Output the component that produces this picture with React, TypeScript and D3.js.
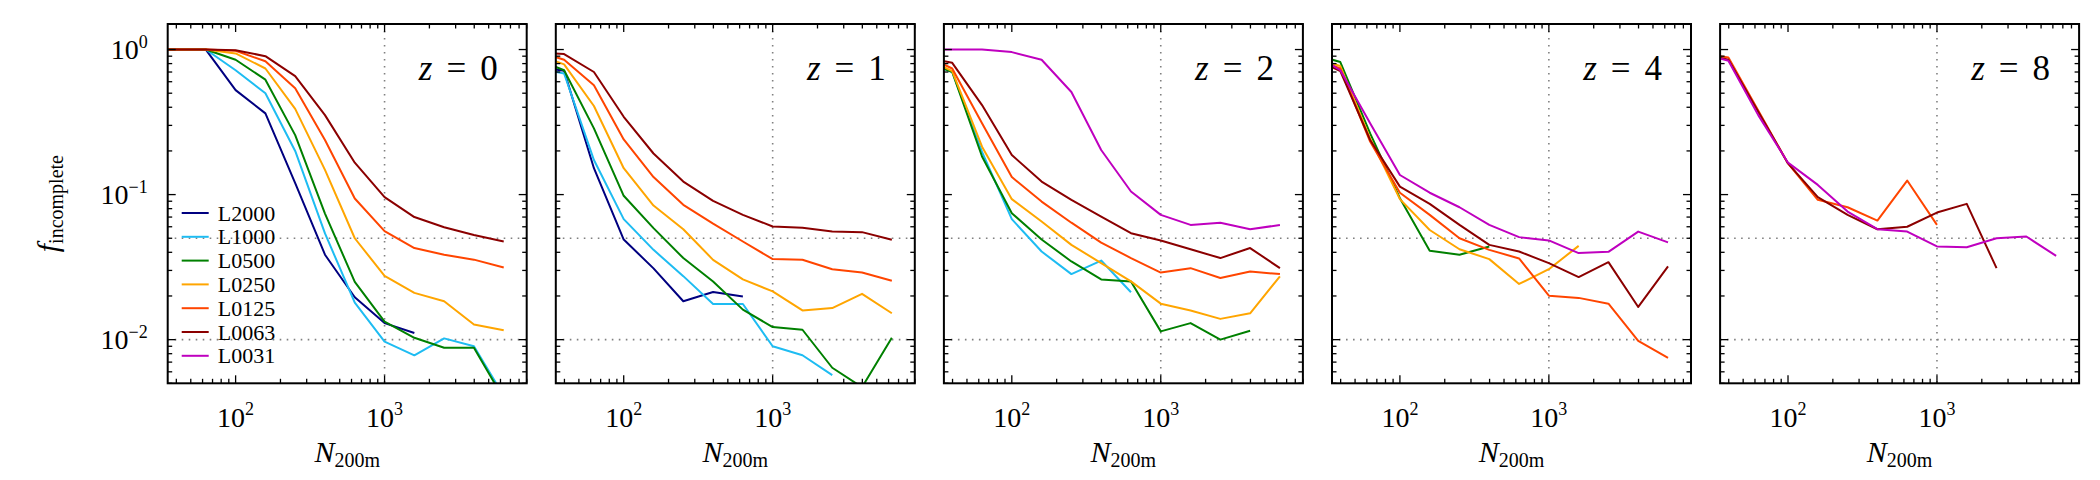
import React from 'react';
import * as d3 from 'd3';

// halo particle-number bins (N_200m)
const nBins = [25.1, 39.8, 63.1, 100, 158.5, 251.2, 398.1, 631, 1000, 1585, 2512, 3981, 6310];
const simNames = ['L2000', 'L1000', 'L0500', 'L0250', 'L0125', 'L0063', 'L0031'];
const simColors = ['#000080', '#1ebcf2', '#008000', '#ffa500', '#ff4500', '#8b0000', '#bf00bf'];
const redshifts = ['0', '1', '2', '4', '8'];
const xMajorTicks = [100, 1000];
const yMajorTicks = [1, 0.1, 0.01];
const yMajorExp = ['0', '\u22121', '\u22122'];
const xMajorExp = ['2', '3'];

type V = number | null;
// z = 0
const z0_L2000: V[] = [1, 1, 1, 0.525, 0.363, 0.12, 0.0385, 0.0196, 0.013, 0.0111, null, null, null];
const z0_L1000: V[] = [1, 1, 1, 0.72, 0.5, 0.2, 0.054, 0.018, 0.0097, 0.0078, 0.0102, 0.009, 0.0041];
const z0_L0500: V[] = [1, 1, 1, 0.85, 0.62, 0.257, 0.074, 0.025, 0.0133, 0.0103, 0.0088, 0.0088, 0.0039];
const z0_L0250: V[] = [1, 1, 1, 0.94, 0.74, 0.39, 0.148, 0.05, 0.0275, 0.021, 0.0184, 0.0127, 0.0116];
const z0_L0125: V[] = [1, 1, 1, 0.98, 0.83, 0.54, 0.238, 0.094, 0.056, 0.0428, 0.0385, 0.0356, 0.0314];
const z0_L0063: V[] = [1, 1, 1, 0.99, 0.9, 0.655, 0.353, 0.166, 0.096, 0.07, 0.0596, 0.0526, 0.0475];
// z = 1
const z1_L2000: V[] = [0.77, 0.713, 0.152, 0.049, 0.031, 0.0184, 0.0213, 0.0198, null, null, null, null, null];
const z1_L1000: V[] = [0.75, 0.684, 0.173, 0.0677, 0.0416, 0.0274, 0.0176, 0.0176, 0.009, 0.0078, 0.0057, null, null];
const z1_L0500: V[] = [0.87, 0.72, 0.286, 0.0981, 0.0587, 0.0365, 0.0252, 0.0161, 0.0122, 0.0117, 0.0064, 0.0047, 0.0103];
const z1_L0250: V[] = [0.94, 0.79, 0.408, 0.152, 0.084, 0.0577, 0.0355, 0.026, 0.0215, 0.0159, 0.0165, 0.0207, 0.0152];
const z1_L0125: V[] = [0.99, 0.85, 0.568, 0.24, 0.132, 0.085, 0.063, 0.0475, 0.0359, 0.0355, 0.0306, 0.029, 0.0255];
const z1_L0063: V[] = [0.96, 0.93, 0.7, 0.344, 0.192, 0.123, 0.0904, 0.0725, 0.0603, 0.059, 0.0556, 0.0551, 0.0488];
// z = 2
const z2_L1000: V[] = [0.84, 0.7, 0.197, 0.0677, 0.0405, 0.0283, 0.0351, 0.0212, null, null, null, null, null];
const z2_L0500: V[] = [0.84, 0.7, 0.183, 0.0744, 0.049, 0.0346, 0.026, 0.0252, 0.0114, 0.013, 0.01, 0.0115, null];
const z2_L0250: V[] = [0.89, 0.71, 0.214, 0.093, 0.0652, 0.045, 0.0337, 0.0252, 0.0177, 0.0159, 0.0139, 0.0152, 0.0273];
const z2_L0125: V[] = [0.93, 0.74, 0.31, 0.132, 0.0895, 0.064, 0.0467, 0.0365, 0.029, 0.0311, 0.0266, 0.0295, 0.0283];
const z2_L0063: V[] = [0.89, 0.81, 0.414, 0.1875, 0.123, 0.092, 0.0706, 0.0542, 0.0483, 0.042, 0.0365, 0.0428, 0.0311];
const z2_L0031: V[] = [1, 1, 1, 0.96, 0.85, 0.51, 0.203, 0.105, 0.0725, 0.0618, 0.064, 0.0577, 0.0617];
// z = 4
const z4_L0500: V[] = [0.94, 0.82, 0.264, 0.0944, 0.041, 0.0385, 0.0439, null, null, null, null, null, null];
const z4_L0250: V[] = [0.89, 0.77, 0.244, 0.093, 0.057, 0.042, 0.0359, 0.0242, 0.0306, 0.0443, null, null, null];
const z4_L0125: V[] = [0.89, 0.74, 0.232, 0.103, 0.0725, 0.05, 0.0416, 0.0363, 0.0201, 0.0194, 0.0177, 0.0098, 0.0075];
const z4_L0063: V[] = [0.89, 0.71, 0.238, 0.1135, 0.0863, 0.0618, 0.045, 0.0405, 0.0337, 0.027, 0.0342, 0.0168, 0.032];
const z4_L0031: V[] = [0.96, 0.72, 0.31, 0.1365, 0.103, 0.0818, 0.0618, 0.0509, 0.0483, 0.0395, 0.0403, 0.0556, 0.0468];
// z = 8
const z8_L0125: V[] = [0.95, 0.88, 0.38, 0.164, 0.092, 0.0818, 0.0662, 0.125, 0.0618, null, null, null, null];
const z8_L0063: V[] = [0.95, 0.85, 0.373, 0.164, 0.096, 0.0725, 0.0577, 0.06, 0.0752, 0.0863, 0.0311, null, null];
const z8_L0031: V[] = [0.95, 0.836, 0.353, 0.166, 0.1166, 0.0764, 0.0577, 0.0556, 0.0439, 0.0434, 0.05, 0.0514, 0.0378];

const panelSeries: Record<string, V[] | undefined>[] = [
  { L2000: z0_L2000, L1000: z0_L1000, L0500: z0_L0500, L0250: z0_L0250, L0125: z0_L0125, L0063: z0_L0063 },
  { L2000: z1_L2000, L1000: z1_L1000, L0500: z1_L0500, L0250: z1_L0250, L0125: z1_L0125, L0063: z1_L0063 },
  { L1000: z2_L1000, L0500: z2_L0500, L0250: z2_L0250, L0125: z2_L0125, L0063: z2_L0063, L0031: z2_L0031 },
  { L0500: z4_L0500, L0250: z4_L0250, L0125: z4_L0125, L0063: z4_L0063, L0031: z4_L0031 },
  { L0125: z8_L0125, L0063: z8_L0063, L0031: z8_L0031 },
];

const FONT = '"Liberation Serif", "DejaVu Serif", serif';
const PW = 359;
const PH = 359.3;
const TOP = 24;
const LEFT0 = 167.7;
const PITCH = 388.1;

export default function App() {
  const x = d3.scaleLog().domain([35, 9000]).range([0, PW]);
  const y = d3.scaleLog().domain([0.005, 1.5]).range([PH, 0]);
  const line = d3
    .line<[number, V]>()
    .defined((d) => d[1] != null)
    .x((d) => x(d[0]))
    .y((d) => y(d[1] as number));

  const xMinor: number[] = [];
  [10, 100, 1000].forEach((dec) => {
    for (let k = 2; k <= 9; k++) {
      const v = k * dec;
      if (v >= 35 && v <= 9000) xMinor.push(v);
    }
  });
  const yMinor: number[] = [];
  [0.001, 0.01, 0.1].forEach((dec) => {
    for (let k = 2; k <= 9; k++) {
      const v = k * dec;
      if (v >= 0.005 && v <= 1.5) yMinor.push(v);
    }
  });

  const majLen = 8;
  const minLen = 4.5;

  return (
    <svg
      width={2100}
      height={480}
      style={{ position: 'absolute', left: 0, top: 0, background: '#fff' }}
      fontFamily={FONT}
    >
      <rect width={2100} height={480} fill="#fff" />
      {redshifts.map((z, pi) => {
        const left = LEFT0 + pi * PITCH;
        const series = panelSeries[pi];
        const clipId = `clip${pi}`;
        return (
          <g key={z} transform={`translate(${left},${TOP})`}>
            <defs>
              <clipPath id={clipId}>
                <rect x={0} y={0} width={PW} height={PH} />
              </clipPath>
            </defs>
            {/* guide lines */}
            <g stroke="#808080" strokeWidth={1.6} strokeDasharray="1.6,5.4" fill="none">
              <line x1={x(1000)} x2={x(1000)} y1={0} y2={PH} />
              <line x1={0} x2={PW} y1={y(0.05)} y2={y(0.05)} />
              <line x1={0} x2={PW} y1={y(0.01)} y2={y(0.01)} />
            </g>
            {/* data */}
            <g clipPath={`url(#${clipId})`} fill="none" strokeWidth={2} strokeLinejoin="round">
              {simNames.map((name, si) => {
                const vals = series[name];
                if (!vals) return null;
                const pts = nBins.map((n, i) => [n, vals[i]] as [number, V]);
                return <path key={name} d={line(pts) || ''} stroke={simColors[si]} />;
              })}
            </g>
            {/* ticks */}
            <g stroke="#000" strokeWidth={1.3}>
              {xMajorTicks.map((t) => (
                <g key={'xM' + t}>
                  <line x1={x(t)} x2={x(t)} y1={PH} y2={PH - majLen} />
                  <line x1={x(t)} x2={x(t)} y1={0} y2={majLen} />
                </g>
              ))}
              {xMinor.map((t) => (
                <g key={'xm' + t}>
                  <line x1={x(t)} x2={x(t)} y1={PH} y2={PH - minLen} />
                  <line x1={x(t)} x2={x(t)} y1={0} y2={minLen} />
                </g>
              ))}
              {yMajorTicks.map((t) => (
                <g key={'yM' + t}>
                  <line x1={0} x2={majLen} y1={y(t)} y2={y(t)} />
                  <line x1={PW} x2={PW - majLen} y1={y(t)} y2={y(t)} />
                </g>
              ))}
              {yMinor.map((t) => (
                <g key={'ym' + t}>
                  <line x1={0} x2={minLen} y1={y(t)} y2={y(t)} />
                  <line x1={PW} x2={PW - minLen} y1={y(t)} y2={y(t)} />
                </g>
              ))}
            </g>
            <rect x={0} y={0} width={PW} height={PH} fill="none" stroke="#000" strokeWidth={2} />
            {/* x tick labels */}
            {xMajorTicks.map((t, i) => (
              <text key={'xl' + t} x={x(t)} y={PH + 44} textAnchor="middle" fontSize={28} fontFamily={FONT}>
                10
                <tspan fontSize={18} dy={-12}>
                  {xMajorExp[i]}
                </tspan>
              </text>
            ))}
            {/* y tick labels (first panel only) */}
            {pi === 0 &&
              yMajorTicks.map((t, i) => (
                <text key={'yl' + t} x={-20} y={y(t) + 9} textAnchor="end" fontSize={28} fontFamily={FONT}>
                  10
                  <tspan fontSize={18} dy={-11}>
                    {yMajorExp[i]}
                  </tspan>
                </text>
              ))}
            {/* x title */}
            <text x={PW / 2} y={PH + 79} textAnchor="middle" fontSize={30} fontFamily={FONT}>
              <tspan fontStyle="italic">N</tspan>
              <tspan fontSize={20} dy={5}>
                200m
              </tspan>
            </text>
            {/* panel label */}
            <text x={PW - 29} y={56} textAnchor="end" fontSize={35} fontFamily={FONT}>
              <tspan fontStyle="italic">z</tspan>
              <tspan dx={14}>=</tspan>
              <tspan dx={14}>{z}</tspan>
            </text>
            {/* y title */}
            {pi === 0 && (
              <text
                transform={`translate(${-110},${PH / 2}) rotate(-90)`}
                textAnchor="middle"
                fontSize={30}
                fontFamily={FONT}
              >
                <tspan fontStyle="italic">f</tspan>
                <tspan fontSize={20} dy={5}>
                  incomplete
                </tspan>
              </text>
            )}
            {/* legend */}
            {pi === 0 &&
              simNames.map((name, si) => {
                const ly = 189 + si * 23.8;
                return (
                  <g key={'lg' + name}>
                    <line x1={14} x2={41} y1={ly} y2={ly} stroke={simColors[si]} strokeWidth={2} />
                    <text x={50} y={ly + 7.5} fontSize={22} fontFamily={FONT}>
                      {name}
                    </text>
                  </g>
                );
              })}
          </g>
        );
      })}
    </svg>
  );
}
